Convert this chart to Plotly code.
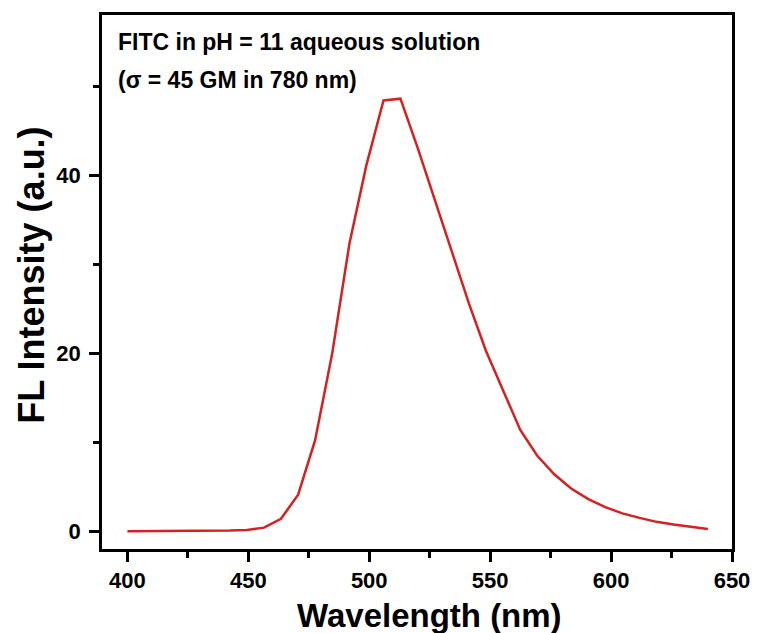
import plotly.graph_objects as go

wavelength = [400.0, 407.1, 414.1, 421.2, 428.2, 435.3, 442.4, 449.4, 456.5, 463.5,
              470.6, 477.6, 484.7, 491.8, 498.8, 505.9, 512.9, 520.0, 527.1, 534.1,
              541.2, 548.2, 555.3, 562.4, 569.4, 576.5, 583.5, 590.6, 597.6, 604.7,
              611.8, 618.8, 625.9, 632.9, 640.0]
intensity = [0.0, 0.0, 0.0, 0.01, 0.02, 0.04, 0.07, 0.13, 0.4, 1.4,
             4.1, 10.2, 20.0, 32.3, 41.1, 48.4, 48.6, 43.1, 37.2, 31.5,
             25.6, 20.3, 15.9, 11.4, 8.5, 6.4, 4.8, 3.6, 2.7, 2.0,
             1.5, 1.05, 0.75, 0.5, 0.25]

x_ticks = [400, 450, 500, 550, 600, 650]
y_ticks = [0, 20, 40]
annotation_lines = ["FITC in pH = 11 aqueous solution", "(σ = 45 GM in 780 nm)"]
x_title = "Wavelength (nm)"
y_title = "FL Intensity (a.u.)"

FONT = "Liberation Sans, Arial, sans-serif"

fig = go.Figure()
fig.add_trace(go.Scatter(x=wavelength, y=intensity, mode="lines",
                         line=dict(color="#d42121", width=2.5), showlegend=False))

axis_common = dict(showline=True, linecolor="black", linewidth=2.5, mirror=True,
                   ticks="outside", ticklen=10, tickwidth=2.5, tickcolor="black",
                   showgrid=False, zeroline=False,
                   tickfont=dict(family=FONT, size=22, color="black", weight="bold"))

fig.update_xaxes(range=[389.5, 650], tickvals=x_ticks,
                 minor=dict(dtick=25, tick0=400, ticklen=6, tickwidth=2.5, tickcolor="black", ticks="outside", showgrid=False),
                 **axis_common)
fig.update_yaxes(range=[-2.0, 58.0], tickvals=y_ticks, ticklabelstandoff=4,
                 minor=dict(dtick=10, tick0=0, ticklen=6, tickwidth=2.5, tickcolor="black", ticks="outside", showgrid=False),
                 **axis_common)

for txt, yp in zip(annotation_lines, [0.949, 0.879]):
    fig.add_annotation(text="<b>" + txt + "</b>", xref="paper", yref="paper",
                       x=0.022, y=yp, xanchor="left", yanchor="middle", showarrow=False,
                       font=dict(family=FONT, size=23, color="black"))

fig.add_annotation(text="<b>" + x_title + "</b>", xref="paper", yref="paper",
                   x=0.520, y=-0.1236, xanchor="center", yanchor="middle", showarrow=False,
                   font=dict(family=FONT, size=33, color="black"))
fig.add_annotation(text="<b>" + y_title + "</b>", xref="paper", yref="paper",
                   x=-0.1132, y=0.513, xanchor="center", yanchor="middle", showarrow=False,
                   textangle=-90, font=dict(family=FONT, size=36, color="black"))

fig.update_layout(width=762, height=633, margin=dict(l=102, r=24, t=15, b=84),
                  plot_bgcolor="white", paper_bgcolor="white")

fig.write_html("out.html")
